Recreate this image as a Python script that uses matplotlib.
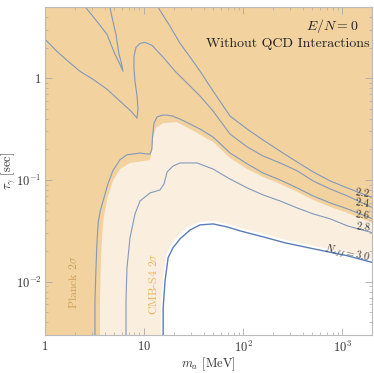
import numpy as np
import matplotlib
matplotlib.use("Agg")
import matplotlib.pyplot as plt
from matplotlib.ticker import FixedLocator, NullFormatter, LogLocator

plt.rcParams['mathtext.fontset'] = 'cm'
plt.rcParams['font.family'] = 'serif'
plt.rcParams['font.serif'] = ['cmr10', 'DejaVu Serif']
plt.rcParams['axes.formatter.use_mathtext'] = True

# contour N_eff = 2.2
m_22 = [13.3, 18.3, 23.1, 29.2, 36.8, 49.8, 73.9, 110, 159, 236, 351, 509, 756, 1125, 2100]
tau_22 = [5.3, 3.24, 2.20, 1.61, 1.17, 0.746, 0.424, 0.316, 0.247, 0.192, 0.150, 0.120, 0.0978, 0.0835, 0.0660]

# contour N_eff = 2.4
m_24 = [0.97, 1.32, 1.67, 2.26, 3.05, 4.23, 5.72, 7.39, 8.50, 8.70, 8.50, 8.11, 7.92, 7.92, 8.30,
        9.12, 10.2, 12.0, 15.6, 20.6, 29.2, 36.8, 49.8, 73.9, 110, 159, 236, 351, 509, 756, 1125, 2100]
tau_24 = [2.5, 1.84, 1.50, 1.17, 0.978, 0.780, 0.595, 0.475, 0.405, 0.497, 0.667, 0.935, 1.25, 1.64, 2.01,
          2.20, 2.25, 2.11, 1.61, 1.17, 0.835, 0.667, 0.475, 0.282, 0.211, 0.172, 0.147, 0.123, 0.0978,
          0.0816, 0.0697, 0.0525]

# unlabelled contour (upper left)
m_20 = [2.48, 3.35, 4.23, 5.09, 5.72, 6.14, 5.86, 5.59, 5.21, 4.86, 4.48]
tau_20 = [5.2, 3.62, 2.70, 1.72, 1.37, 1.17, 1.47, 1.72, 2.70, 3.62, 5.2]

# contour N_eff = 2.6
m_26 = [3.20, 3.20, 3.27, 3.35, 3.45, 3.62, 3.90, 4.30, 4.86, 5.72, 6.73, 9.12, 10.7, 11.5, 12.0, 12.2,
        12.6, 13.5, 15.2, 17.1, 19.6, 23.1, 29.2, 36.8, 49.8, 73.9, 110, 159, 236, 351, 509, 756, 1125, 2100]
tau_26 = [0.0025, 0.00652, 0.0128, 0.0240, 0.0380, 0.0500, 0.0640, 0.0900, 0.124, 0.158, 0.177, 0.184,
          0.180, 0.180, 0.201, 0.270, 0.362, 0.415, 0.434, 0.434, 0.424, 0.396, 0.354, 0.316, 0.264, 0.184,
          0.144, 0.117, 0.100, 0.0835, 0.0697, 0.0595, 0.0520, 0.0410]

# Planck 2 sigma boundary
m_planck = [3.59, 3.59, 3.68, 3.77, 3.94, 4.33, 4.86, 5.72, 7.22, 10.2, 11.5, 12.0, 12.3, 13.2, 15.6,
            21.5, 29.2, 49.8, 73.9, 110, 159, 236, 351, 509, 756, 1125, 2100]
tau_planck = [0.0025, 0.00652, 0.0161, 0.0282, 0.0444, 0.0697, 0.0978, 0.128, 0.147, 0.154, 0.157, 0.192,
              0.258, 0.323, 0.362, 0.370, 0.316, 0.236, 0.164, 0.128, 0.107, 0.0913, 0.0763, 0.0637,
              0.0544, 0.0474, 0.0372]

# contour N_eff = 2.8
m_28 = [6.58, 6.58, 6.73, 7.22, 8.11, 9.12, 11.5, 14.5, 15.9, 17.1, 19.6, 23.1, 34.3, 49.8, 73.9, 110,
        159, 236, 351, 509, 756, 1125, 2100]
tau_28 = [0.0025, 0.00652, 0.0137, 0.0270, 0.0464, 0.0622, 0.0746, 0.0798, 0.0913, 0.120, 0.137, 0.147,
          0.147, 0.128, 0.102, 0.0835, 0.0713, 0.0622, 0.0531, 0.0464, 0.0415, 0.0354, 0.0300]

# contour N_eff = 3.0
m_30 = [15.6, 15.6, 16.3, 17.5, 19.6, 23.1, 29.2, 36.8, 49.8, 68.9, 93.3, 159, 266, 509, 1125, 2100]
tau_30 = [0.0025, 0.00556, 0.0102, 0.0172, 0.0216, 0.0264, 0.0323, 0.0362, 0.0370, 0.0346, 0.0316,
          0.0276, 0.0241, 0.0211, 0.0180, 0.0153]

# CMB-S4 2 sigma boundary
m_s4 = [14.8, 14.8, 15.6, 16.7, 18.7, 22.0, 27.8, 36.8, 49.8, 68.9, 93.3, 159, 266, 509, 1125, 2100]
tau_s4 = [0.0025, 0.00652, 0.0109, 0.0184, 0.0231, 0.0282, 0.0346, 0.0388, 0.0397, 0.0370, 0.0338,
          0.0296, 0.0258, 0.0225, 0.0193, 0.0163]

dark = '#f2d29f'
light = '#faeedf'
line_c = '#8499b8'

fig = plt.figure(figsize=(3.74, 3.73), dpi=100)
ax = fig.add_axes([0.120, 0.102, 0.875, 0.879])
ax.set_xscale('log')
ax.set_yscale('log')
ax.set_xlim(1, 2000)
ax.set_ylim(0.003, 5)
ax.set_facecolor(dark)

ax.fill(m_planck + [2500, 2500], tau_planck + [0.002, 0.002], color=light, lw=0)
ax.fill(m_s4 + [2500, 2500], tau_s4 + [0.002, 0.002], color='white', lw=0)

for mm, tt in [(m_20, tau_20), (m_22, tau_22), (m_24, tau_24), (m_26, tau_26), (m_28, tau_28)]:
    ax.plot(mm, tt, color=line_c, lw=0.8)
ax.plot(m_30, tau_30, color='#5b7db6', lw=1.0)

lab_kw = dict(fontsize=7.5, color='#333333', ha='center', va='center')
ax.text(1592, 0.0763, r'$2.2$', rotation=-8, **lab_kw)
ax.text(1592, 0.0608, r'$2.4$', rotation=-8, **lab_kw)
ax.text(1592, 0.0464, r'$2.6$', rotation=-8, **lab_kw)
ax.text(1630, 0.0354, r'$2.8$', rotation=-8, **lab_kw)
ax.text(1125, 0.0188, r'$N_{eff}=3.0$', rotation=-12, **lab_kw)

ax.text(1.92, 0.0098, r'Planck $2\sigma$', rotation=90, fontsize=8.5, color='#c9a15c',
        ha='center', va='center')
ax.text(12.3, 0.0095, r'CMB-S4 $2\sigma$', rotation=90, fontsize=8.5, color='#ecb45c',
        ha='center', va='center')

ax.text(0.957, 0.942, r'$E/N=0$', transform=ax.transAxes, fontsize=10, ha='right', va='center',
        color='#222222')
ax.text(0.991, 0.887, 'Without QCD Interactions', transform=ax.transAxes, fontsize=10,
        ha='right', va='center', color='#222222')

ax.xaxis.set_major_locator(FixedLocator([1, 10, 100, 1000]))
ax.set_xticklabels([r'$1$', r'$10$', r'$10^2$', r'$10^3$'])
ax.yaxis.set_major_locator(FixedLocator([0.01, 0.1, 1]))
ax.set_yticklabels([r'$10^{-2}$', r'$10^{-1}$', r'$1$'])
ax.xaxis.set_minor_locator(LogLocator(base=10, subs=np.arange(2, 10)))
ax.yaxis.set_minor_locator(LogLocator(base=10, subs=np.arange(2, 10)))
ax.xaxis.set_minor_formatter(NullFormatter())
ax.yaxis.set_minor_formatter(NullFormatter())
ax.tick_params(which='both', direction='in', top=True, right=True, color='#aaaaaa',
               labelsize=9, labelcolor='#333333')
ax.tick_params(axis='y', which='major', pad=2.5)
ax.tick_params(which='major', length=5, width=0.6)
ax.tick_params(which='minor', length=2.5, width=0.5)
for s in ax.spines.values():
    s.set_color('#bbbbbb')
    s.set_linewidth(0.8)

ax.set_xlabel(r'$m_a$ [MeV]', fontsize=9, color='#333333')
ax.set_ylabel(r'$\tau_\gamma$ [sec]', fontsize=9, color='#333333')
ax.xaxis.set_label_coords(0.5, -0.062)
ax.yaxis.set_label_coords(-0.086, 0.5)

fig.savefig('out.png', dpi=100)
